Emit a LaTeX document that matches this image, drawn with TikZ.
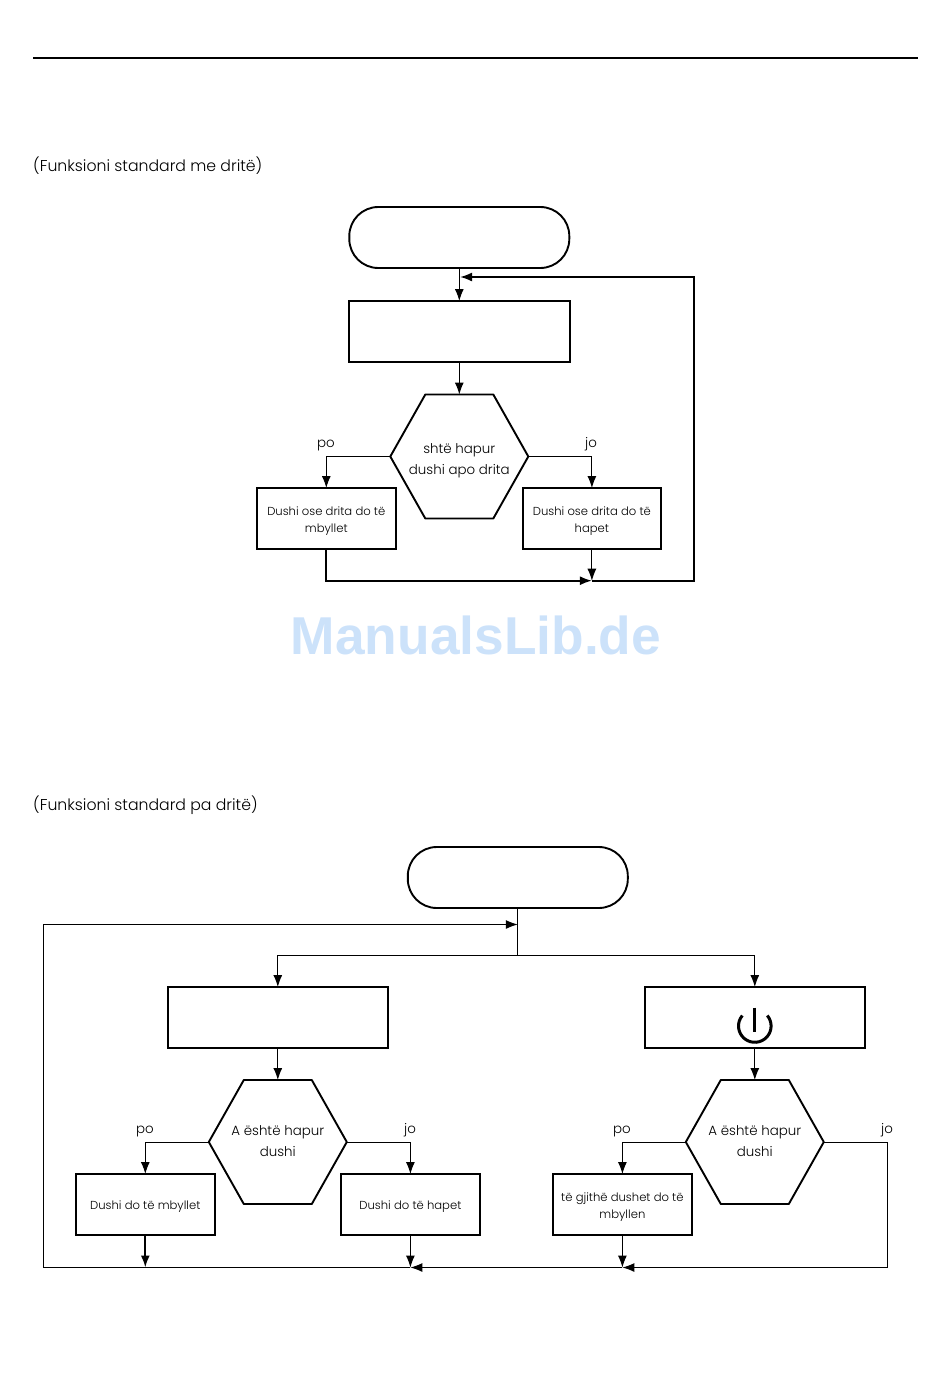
\documentclass[tikz,border=0pt]{standalone}
\usepackage{fontspec}
\usepackage{tikz}
\usetikzlibrary{arrows.meta}
\setmainfont{Poppins Light}
\newfontfamily\markfont{Liberation Sans}[BoldFont={Liberation Sans Bold}]
\definecolor{markblue}{RGB}{204,226,250}
\newcommand{\hexoutline}[1]{\draw[line width=1.9pt,line join=round] (#1.west) -- ([xshift=35pt]#1.north west) -- ([xshift=-35pt]#1.north east) -- (#1.east) -- ([xshift=-35pt]#1.south east) -- ([xshift=35pt]#1.south west) -- cycle;}
\newcommand{\lowstrut}{\rule{0pt}{13.6pt}}
\tikzset{
    flow/.style={line width=1pt,-{Latex[length=12pt,width=9pt]}},
    heavyflow/.style={flow,line width=1.9pt},
    plainline/.style={line width=1pt},
    startbox/.style={draw,line width=1.9pt,rounded corners=29pt,minimum width=220pt,minimum height=61pt,outer sep=0pt},
    stepbox/.style={draw,line width=1.9pt,minimum width=220pt,minimum height=61pt,outer sep=0pt},
    smallbox/.style={draw,line width=1.9pt,minimum width=138.6pt,minimum height=61pt,outer sep=0pt,inner sep=0pt,align=center,font=\fontsize{11.6}{17}\selectfont},
    hexbox/.style={minimum width=138pt,minimum height=124pt,outer sep=0pt,inner sep=0pt,align=center,font=\fontsize{13.4}{21}\selectfont},
    answer/.style={anchor=base,inner sep=0pt,font=\fontsize{13.4}{16}\selectfont},
    heading/.style={anchor=west,inner sep=0pt,font=\fontsize{15.7}{18}\selectfont}
}
\begin{document}
\begin{tikzpicture}[x=1pt,y=-1pt]
        \useasboundingbox (0,0) rectangle (950,1378);
        \coordinate (rulea) at (33,58);
        \coordinate (ruleb) at (918,58);
        \draw[line width=2pt] (rulea) -- (ruleb);
        \node (headone) at (33,166) [heading] {(Funksioni standard me dritë)};
        \node (headtwo) at (33,805) [heading] {(Funksioni standard pa dritë)};
        \node (mark) at (476,635) [inner sep=0pt,text=markblue,font=\markfont\fontsize{53.3}{60}\selectfont\bfseries] {ManualsLib.de};

        % upper chart
        \node (starta) at (459.3,237.5) [startbox] {};
        \node (stepa) at (459.3,331.5) [stepbox,minimum width=221pt] {};
        \node (hexa) at (459.3,456.5) [hexbox] {\rule{0pt}{18pt}shtë hapur\\dushi apo drita};
        \hexoutline{hexa}
        \node (closea) at (326.3,518.5) [smallbox] {\lowstrut Dushi ose drita do të\\mbyllet};
        \node (opena) at (591.9,518.5) [smallbox] {\lowstrut Dushi ose drita do të\\hapet};
        \node (poa) at (326,447) [answer] {po};
        \node (joa) at (591,447) [answer] {jo};
        \coordinate (mergea) at (591.9,580.7);
        \coordinate (cornera) at (694,580.7);
        \coordinate (cornerb) at (694,277);
        \coordinate (backa) at (460,277);
        \draw[flow] (starta.south) -- (stepa.north);
        \draw[flow] (stepa.south) -- (hexa.north);
        \draw[flow] (hexa.west) -| (closea.north);
        \draw[flow] (hexa.east) -| (opena.north);
        \draw[heavyflow] (closea.south) |- (mergea);
        \draw[flow] (opena.south) -- (mergea);
        \draw[heavyflow] (mergea) -- (cornera) -- (cornerb) -- (backa);

        % lower chart
        \node (startb) at (517.8,877.5) [startbox] {};
        \node (stepb) at (277.8,1017.5) [stepbox] {};
        \node (stepc) at (754.8,1017.5) [stepbox] {};
        \node (hexb) at (277.8,1142) [hexbox] {A është hapur\\dushi\rule[-2pt]{0pt}{2pt}};
        \node (hexc) at (754.8,1142) [hexbox] {A është hapur\\dushi\rule[-2pt]{0pt}{2pt}};
        \hexoutline{hexb}
        \hexoutline{hexc}
        \node (closeb) at (145.3,1204.5) [smallbox] {\lowstrut Dushi do të mbyllet};
        \node (openb) at (410.4,1204.5) [smallbox] {\lowstrut Dushi do të hapet};
        \node (closec) at (622.4,1204.5) [smallbox] {\lowstrut të gjithë dushet do të\\mbyllen};
        \node (pob) at (145,1133.3) [answer] {po};
        \node (job) at (410,1133.3) [answer] {jo};
        \node (poc) at (622,1133.3) [answer] {po};
        \node (joc) at (887,1133.3) [answer] {jo};
        \coordinate (power) at (754.8,1026);
        \draw[line width=3pt] (power) ++(-140:16.3) arc (-140:-400:16.3);
        \coordinate (powera) at (754.8,1007.5);
        \coordinate (powerb) at (754.8,1032);
        \draw[line width=2.8pt] (powera) -- (powerb);
        \coordinate (splitb) at (517.8,955.3);
        \coordinate (loopin) at (517.8,924.5);
        \coordinate (loopa) at (43.3,924.5);
        \coordinate (loopb) at (43.3,1267.5);
        \coordinate (baseb) at (145.3,1267.5);
        \coordinate (basec) at (410.4,1267.5);
        \coordinate (based) at (622.4,1267.5);
        \coordinate (cornerc) at (887.6,1267.5);
        \draw[plainline] (startb.south) -- (splitb);
        \draw[flow] (splitb) -| (stepb.north);
        \draw[flow] (splitb) -| (stepc.north);
        \draw[flow] (stepb.south) -- (hexb.north);
        \draw[flow] (stepc.south) -- (hexc.north);
        \draw[flow] (hexb.west) -| (closeb.north);
        \draw[flow] (hexb.east) -| (openb.north);
        \draw[flow] (hexc.west) -| (closec.north);
        \draw[heavyflow] (closeb.south) -- (baseb);
        \draw[flow] (openb.south) -- (basec);
        \draw[flow] (closec.south) -- (based);
        \draw[flow] (hexc.east) -| (cornerc) -- (based);
        \draw[flow] (based) -- (basec);
        \draw[flow] (basec) -- (loopb) -- (loopa) -- (loopin);
    \end{tikzpicture}
\end{document}
